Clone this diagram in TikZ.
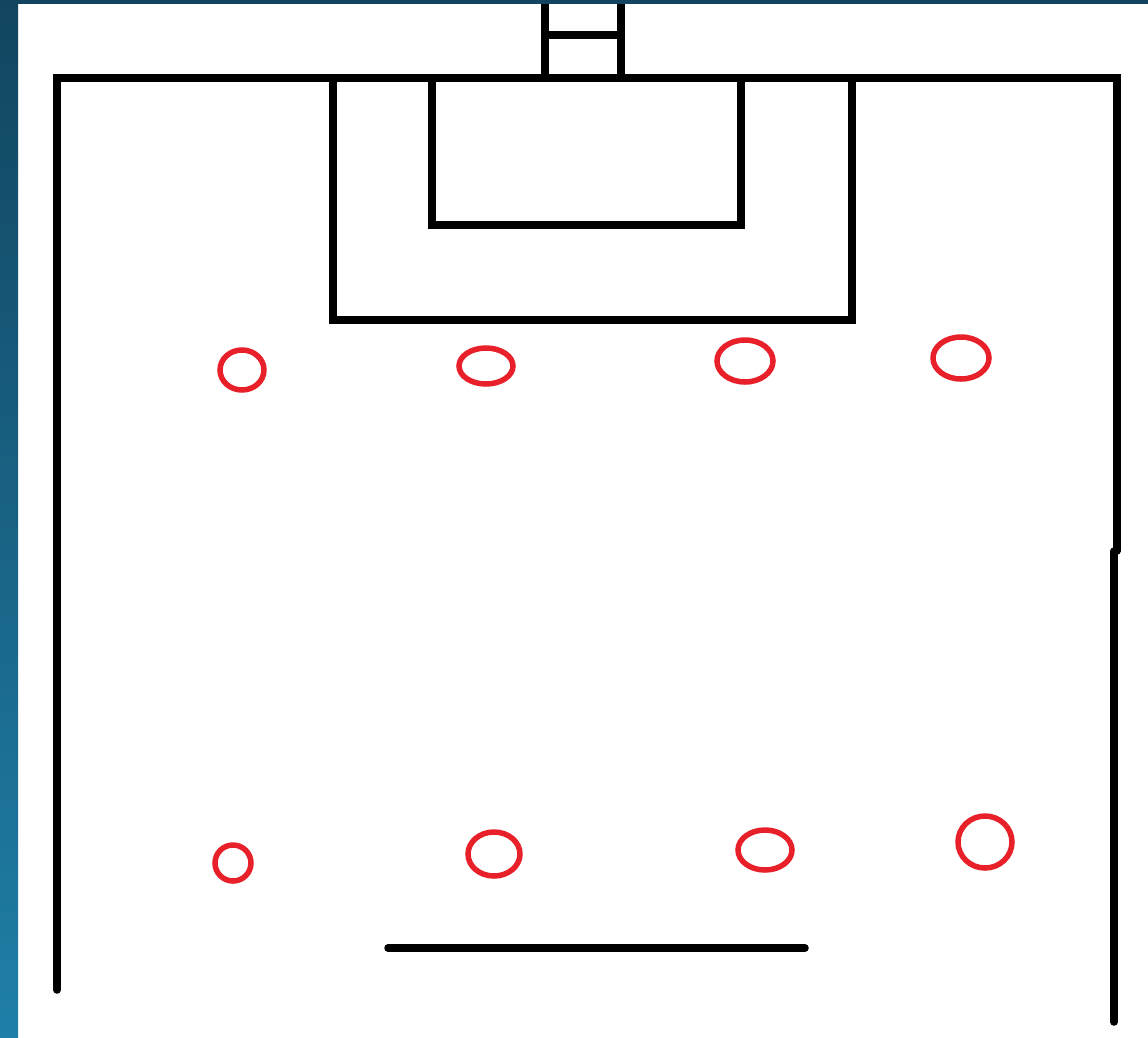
\documentclass[tikz,border=0pt]{standalone}
\begin{document}
\begin{tikzpicture}[x=1pt,y=-1pt,
  wall/.style={line width=7.5pt,black,line cap=round,line join=miter},
  spot/.style={line width=5.5pt,draw=redspot}]
\definecolor{redspot}{HTML}{E8202A}
\definecolor{stripTop}{HTML}{124560}
\definecolor{stripBot}{HTML}{1F7FA8}
\useasboundingbox (0,0) rectangle (1148,1037);
\fill[white] (0,0) rectangle (1148,1037);
\shade[top color=stripTop,bottom color=stripBot] (0,0) rectangle (18,1037);
\fill[stripTop] (0,0) rectangle (1148,4);
% goal
\draw[wall,line cap=butt] (545,4) -- (545,78);
\draw[wall,line cap=butt] (621,4) -- (621,78);
\draw[wall,line cap=butt] (545,35) -- (621,35);
% outer lines
\draw[wall] (57,990) -- (57,78) -- (1117,78) -- (1117,551);
\draw[wall] (1114,551) -- (1114,1022);
% boxes
\draw[wall,line cap=butt] (333,78) -- (333,320) -- (852,320) -- (852,78);
\draw[wall,line cap=butt] (432,78) -- (432,225) -- (741,225) -- (741,78);
% bottom line
\draw[wall] (388,948) -- (805,948);
% spots
\draw[spot] (242,370) ellipse [x radius=22,y radius=20];
\draw[spot] (486,366) ellipse [x radius=27,y radius=18];
\draw[spot] (745,361) ellipse [x radius=28,y radius=21];
\draw[spot] (961,358) ellipse [x radius=28,y radius=21];
\draw[spot] (233,863) ellipse [x radius=18,y radius=18];
\draw[spot] (494,854) ellipse [x radius=26,y radius=22];
\draw[spot] (765,850) ellipse [x radius=27,y radius=20];
\draw[spot] (985,842) ellipse [x radius=27,y radius=26];
\end{tikzpicture}
\end{document}
